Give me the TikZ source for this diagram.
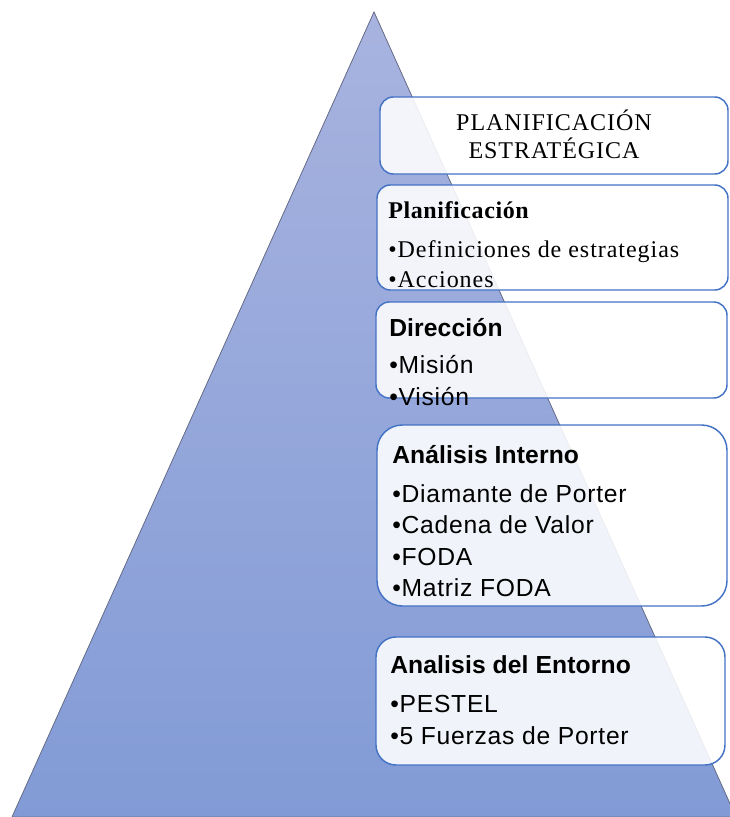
\documentclass[tikz,border=0pt]{standalone}
\usepackage{fontspec}
\setmainfont{Liberation Serif}[LetterSpace=4,BoldFeatures={LetterSpace=2.5}]
\setsansfont{Liberation Sans}[LetterSpace=3,BoldFeatures={LetterSpace=0.5}]
\usepackage{xcolor}
\definecolor{BoxBlue}{RGB}{68,114,196}
\definecolor{PyrTop}{RGB}{168,179,223}
\definecolor{PyrBottom}{RGB}{130,155,214}
\definecolor{PyrEdge}{RGB}{105,112,140}
\tikzstyle{none}=[inner sep=0pt]
\tikzstyle{pyramid}=[top color=PyrTop,bottom color=PyrBottom,draw=PyrEdge,line width=0.6pt]
\tikzstyle{box}=[draw=BoxBlue,line width=1.1pt,fill=white,fill opacity=0.88,rounded corners=10pt,inner sep=0pt]
\tikzstyle{serif}=[inner sep=0pt,anchor=base west,font=\fontsize{18}{21}\selectfont]
\tikzstyle{sans}=[inner sep=0pt,anchor=base west,font=\sffamily\fontsize{18.5}{22}\selectfont]

\begin{document}
\begin{tikzpicture}[x=0.75pt,y=-0.75pt]
  \useasboundingbox (0,0) rectangle (730,817);
  % pyramid
  \node [style=none] (0) at (374, 12) {};
  \node [style=none] (1) at (12, 817) {};
  \node [style=none] (2) at (736, 817) {};
  \filldraw [style=pyramid] (0.center) -- (1.center) -- (2.center) -- cycle;
  % boxes
  \node [style=box, minimum width=261pt, minimum height=57.75pt] (3) at (554, 135.5) {};
  \node [style=box, minimum width=263.25pt, minimum height=78.75pt] (4) at (552.5, 237.5) {};
  \node [style=box, minimum width=263.25pt, minimum height=72pt] (5) at (551.5, 350) {};
  \node [style=box, minimum width=262.5pt, minimum height=135.75pt, rounded corners=19pt] (6) at (552, 515.5) {};
  \node [style=box, minimum width=261.75pt, minimum height=96pt, rounded corners=15pt] (7) at (550.5, 701) {};
  % texts
  \node [style=serif, anchor=base] (8) at (554, 130) {PLANIFICACIÓN};
  \node [style=serif, anchor=base] (9) at (554, 158) {ESTRATÉGICA};
  \node [style=serif] (10) at (388, 218) {\textbf{Planificación}};
  \node [style=serif] (11) at (388, 257) {\textbullet Definiciones de estrategias};
  \node [style=serif] (12) at (388, 287) {\textbullet Acciones};
  \node [style=sans] (13) at (389, 336) {\textbf{Dirección}};
  \node [style=sans] (14) at (389, 373) {\textbullet Misión};
  \node [style=sans] (15) at (389, 405) {\textbullet Visión};
  \node [style=sans] (16) at (392, 463) {\textbf{Análisis Interno}};
  \node [style=sans] (17) at (392, 502) {\textbullet Diamante de Porter};
  \node [style=sans] (18) at (392, 533) {\textbullet Cadena de Valor};
  \node [style=sans] (19) at (392, 565) {\textbullet FODA};
  \node [style=sans] (20) at (392, 596) {\textbullet Matriz FODA};
  \node [style=sans] (21) at (390, 673) {\textbf{Analisis del Entorno}};
  \node [style=sans] (22) at (390, 712) {\textbullet PESTEL};
  \node [style=sans] (23) at (390, 744) {\textbullet 5 Fuerzas de Porter};
\end{tikzpicture}
\end{document}
